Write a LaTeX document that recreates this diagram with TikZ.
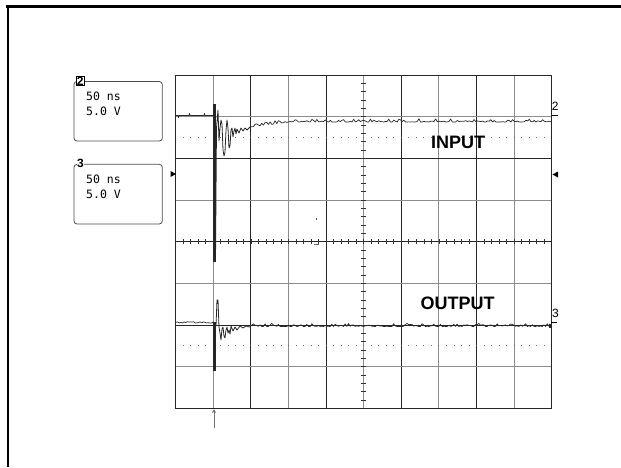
\documentclass[tikz,border=0pt]{standalone}
\usepackage{fontspec}
\setmainfont{Liberation Sans}
\newfontfamily\scopemono{DejaVu Sans Mono}
\usetikzlibrary{arrows.meta}
\begin{document}
\begin{tikzpicture}[x=1pt,y=-1pt,
  gridblk/.style={draw=black!85, line width=0.9pt},
  gridgry/.style={draw=black!45, line width=0.9pt},
  tickline/.style={draw=black!80, line width=0.7pt},
  trace/.style={draw=black!85, line width=0.8pt, line join=round},
  edgeline/.style={draw=black!85, line width=2.4pt},
  box/.style={draw=black!70, rounded corners=3pt, line width=0.8pt},
  biglbl/.style={font=\bfseries\fontsize{18}{18}\selectfont, inner sep=0},
  chlbl/.style={font=\bfseries\fontsize{12}{12}\selectfont, inner sep=0.4pt, fill=white},
  mono/.style={font=\scopemono\fontsize{11.5}{12}\selectfont, anchor=west, inner sep=0},
  chmark/.style={font=\fontsize{12}{12}\selectfont, inner sep=0}]
\useasboundingbox (0,0) rectangle (621,467);
% frame
\draw[line width=2.2pt] (6.4,6.5) -- (621,6.5);
\draw[line width=2pt] (7.5,5.4) -- (7.5,467);
% grid
\foreach \i in {1,3,5,7,9} \draw[gridgry] ({175.7+\i*37.6},75) -- ++(0,333.3);
\foreach \i in {2,4,6} \draw[gridblk] ({175.7+\i*37.6},75) -- ++(0,333.3);
\draw[gridblk, line width=1.6pt] ({175.7+8*37.6},75) -- ++(0,333.3);
\foreach \j in {1,3,5,7} \draw[gridgry] (175.7,{75+\j*41.67}) -- ++(376,0);
\foreach \j in {2,4,6} \draw[gridblk] (175.7,{75+\j*41.67}) -- ++(376,0);
\draw[gridblk] (175.7,75) rectangle (551.7,408.3);
% minor ticks on the centre axes
\foreach \k in {1,...,49} \draw[tickline] ({175.7+\k*7.52},239) -- ++(0,5.4);
\foreach \k in {1,...,39} \draw[tickline] (361,{75+\k*8.333}) -- ++(5.4,0);
% dotted half-division lines
\draw[black!60, line width=0.9pt, dash pattern=on 0.9pt off 6.62pt] (182.8,137.9) -- (551,137.9);
\draw[black!60, line width=0.9pt, dash pattern=on 0.9pt off 6.62pt] (182.8,345.8) -- (551,345.8);
% stray marks
\fill[black!70] (316,218) rectangle ++(1,1.5);
\draw[black!60, line width=0.7pt] (314,244.2) -- (319,244.2);
% ---------------- trace 2 (INPUT)
\pgfmathsetseed{4711}
\draw[trace] (176,115.5) -- (178,115.5) -- (178.5,117.5) -- (179,115.5) -- (189,115.5) -- (189.5,113.5) -- (190,115.5)
  -- (204,115.5) -- (204.5,113.5) -- (205,115.5) -- (213.5,115.5);
\draw[edgeline] (214.3,104) -- (214.3,262);
\draw[trace] (215.5,262) -- (216.5,128) -- (218,110) -- (219,141) -- (220,128) -- (221,120) -- (222,124)
  -- (223,150) -- (224,156) -- (225,152) -- (226,130) -- (227,120) -- (228,128) -- (229,148) -- (230,146)
  -- (231,130) -- (232,128) -- (233,137) -- (234,131) -- (235,128) -- (236,134) -- (237,129) -- (239,133)
  -- (241,128) -- (243,131) -- (245,128) -- (247,130) -- (250,127);
\draw[trace, line width=0.7pt] plot[domain=250:551, samples=181] (\x,{127-5*min(1,(\x-250)/40)-3.2*rnd^3});
% ---------------- trace 3 (OUTPUT)
\draw[trace, line width=0.7pt] plot[domain=176:213, samples=24] (\x,{321.5+1.6*rnd});
\draw[edgeline] (214.3,322) -- (214.3,371);
\draw[trace] (213,322) -- (214.5,325) -- (216,326) -- (217,300) -- (218,300) -- (219,327) -- (220,333)
  -- (221,340) -- (222,329) -- (223,327) -- (224,336) -- (225,338) -- (226,330) -- (227,327) -- (228,333)
  -- (229,330) -- (230,334) -- (231,326) -- (233,331) -- (235,327) -- (237,330) -- (240,326) -- (243,328)
  -- (246,326) -- (250,327);
\draw[trace, line width=0.7pt] plot[domain=250:549, samples=180] (\x,{326.5-3.2*rnd^3});
\fill[black!85] (548.5,323.5) rectangle (551.5,328);
% labels in the screen
\node[biglbl] (inlbl) at (458,142) {INPUT};
\node[biglbl] (outlbl) at (457.5,303.5) {OUTPUT};
% channel markers on the right
\node[chmark] (m2) at (555.2,106) {2};
\draw[line width=0.8pt] (552,115.5) -- (558,115.5);
\node[chmark] (m3) at (555.5,313.5) {3};
\draw[line width=0.8pt] (551,322.5) -- (557,322.5);
% trigger level markers
\fill[black] (170.5,171) -- (176,174) -- (170.5,177) -- cycle;
\fill[black] (558,171.5) -- (552.5,174.5) -- (558,177.5) -- cycle;
% trigger position arrow
\coordinate (trigfoot) at (214,428);
\coordinate (trigtip) at (214,409);
\draw[black!55, line width=0.8pt, -{Stealth[length=4pt,width=4pt]}] (trigfoot) -- (trigtip);
% channel boxes
\draw[box] (74,81.5) rectangle (162.3,141);
\node[chlbl, draw=black, line width=0.9pt] (c2) at (80.3,81) {2};
\node[mono] (c2t) at (86,96) {50 ns};
\node[mono] (c2v) at (86,111) {5.0 V};
\draw[box] (74,164.3) rectangle (162.3,224);
\node[chlbl] (c3) at (80.5,163.5) {3};
\node[mono] (c3t) at (86,179) {50 ns};
\node[mono] (c3v) at (86,194) {5.0 V};
\end{tikzpicture}
\end{document}
